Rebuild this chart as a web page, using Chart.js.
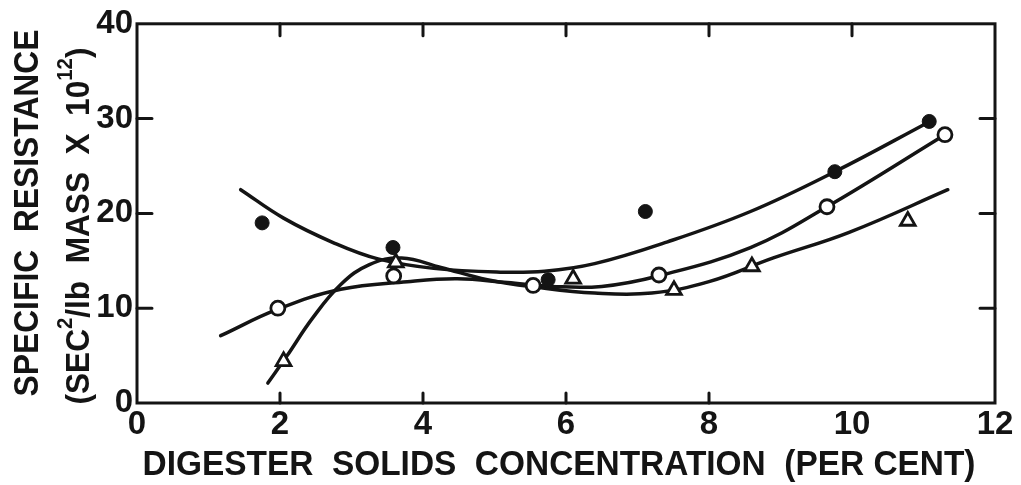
<!DOCTYPE html>
<html>
<head>
<meta charset="utf-8">
<title>Specific resistance vs digester solids</title>
<script src="https://cdn.jsdelivr.net/npm/chart.js@4.4.1/dist/chart.umd.min.js"></script>
<style>
  html, body { margin: 0; padding: 0; background: #fff; }
  canvas { display: block; }
</style>
</head>
<body>
<canvas id="c" width="1021" height="485"></canvas>
<script>
// Measured specific resistance (sec^2/lb mass x 10^12) vs digester solids (%)
const filledX = [1.75, 3.58, 5.75, 7.11, 9.76, 11.08];
const filledY = [19.0, 16.4, 13.0, 20.2, 24.4, 29.7];
const openX   = [1.97, 3.59, 5.54, 7.30, 9.65, 11.30];
const openY   = [10.0, 13.4, 12.4, 13.5, 20.7, 28.3];
const triX    = [2.05, 3.62, 6.10, 7.51, 8.60, 10.78];
const triY    = [4.4, 14.8, 13.1, 11.9, 14.4, 19.2];

// Hand-fitted trend curves, one per series
const filledCurveX = [1.45, 2.05, 2.75, 3.37, 4.15, 5.08, 5.70, 6.40, 7.42, 8.58, 9.76, 11.09];
const filledCurveY = [22.5, 19.5, 16.9, 15.2, 14.2, 13.8, 13.9, 14.7, 17.0, 20.2, 24.4, 29.7];
const openCurveX   = [1.17, 1.97, 2.85, 3.78, 4.48, 5.18, 5.80, 6.50, 7.29, 8.58, 9.65, 11.30];
const openCurveY   = [7.1, 9.9, 12.0, 12.8, 13.1, 12.7, 12.3, 12.3, 13.4, 16.4, 20.7, 28.3];
const triCurveX    = [1.83, 2.10, 2.45, 2.85, 3.25, 3.70, 4.25, 4.90, 5.60, 6.40, 7.20, 8.00, 8.90, 9.96, 11.34];
const triCurveY    = [2.1, 5.0, 8.9, 12.5, 14.6, 15.3, 14.3, 13.0, 12.2, 11.6, 11.6, 12.8, 15.3, 18.0, 22.5];

// Axis ticks and labels
const xTickLabels = ['0', '2', '4', '6', '8', '10', '12'];
const yTickLabels = ['0', '10', '20', '30', '40'];
const xTopTicks = [2, 4, 6, 8, 10];
const xBottomTicks = [2, 4, 6, 8];
const ySideTicks = [10, 20, 30];

const xTitle = [{ t: 'DIGESTER  SOLIDS  CONCENTRATION  (PER CENT)' }];
const yTitle1 = [{ t: 'SPECIFIC  RESISTANCE' }];
const yTitle2 = [
  { t: '(SEC' }, { t: '2', sup: true }, { t: '/lb  MASS  X  10' }, { t: '12', sup: true }, { t: ')' }
];

const FONT = "'Liberation Sans', Arial, sans-serif";
const INK = '#141414';

const pts = (xs, ys) => xs.map((x, i) => ({ x, y: ys[i] }));

function segFont(s, size) {
  return `bold ${s.sup ? Math.round(size * 0.66) : size}px ${FONT}`;
}

// Draws a run of text (with optional superscripts), squeezed to a given length.
function drawRich(ctx, segs, size, ax, ay, length, vertical) {
  ctx.save();
  ctx.translate(ax, ay);
  if (vertical) ctx.rotate(-Math.PI / 2);
  const widths = segs.map(s => { ctx.font = segFont(s, size); return ctx.measureText(s.t).width; });
  const total = widths.reduce((a, b) => a + b, 0);
  ctx.scale(length / total, 1);
  ctx.fillStyle = INK;
  ctx.textAlign = 'left';
  ctx.textBaseline = 'alphabetic';
  let x = -total / 2;
  segs.forEach((s, i) => {
    ctx.font = segFont(s, size);
    ctx.fillText(s.t, x, s.sup ? -size * 0.5 : 0);
    x += widths[i];
  });
  ctx.restore();
}

const frameAndTitles = {
  id: 'frameAndTitles',
  afterDatasetsDraw(chart) {
    const { ctx, chartArea: a, scales: { x, y } } = chart;
    ctx.save();
    ctx.strokeStyle = INK;
    ctx.lineWidth = 3;
    ctx.lineCap = 'round';
    ctx.strokeRect(a.left, a.top, a.right - a.left, a.bottom - a.top);
    ctx.beginPath();
    ySideTicks.forEach(v => {
      const py = y.getPixelForValue(v);
      ctx.moveTo(a.left, py); ctx.lineTo(a.left + 15, py);
      ctx.moveTo(a.right, py); ctx.lineTo(a.right - 15, py);
    });
    xTopTicks.forEach(v => {
      const px = x.getPixelForValue(v);
      ctx.moveTo(px, a.top); ctx.lineTo(px, a.top + 12);
    });
    xBottomTicks.forEach(v => {
      const px = x.getPixelForValue(v);
      ctx.moveTo(px, a.bottom); ctx.lineTo(px, a.bottom - 10);
    });
    ctx.stroke();
    ctx.restore();

    drawRich(ctx, xTitle, 35, 559, 475, 833, false);
    drawRich(ctx, yTitle1, 35, 38, 213, 367, true);
    drawRich(ctx, yTitle2, 34, 89, 226, 357, true);
  }
};

const markerBase = { showLine: false, borderColor: INK };
const curveBase = {
  type: 'line', showLine: true, pointRadius: 0, borderColor: INK, borderWidth: 3.5,
  tension: 0.4, fill: false, borderCapStyle: 'round'
};

new Chart(document.getElementById('c'), {
  type: 'scatter',
  data: {
    datasets: [
      { ...markerBase, label: 'solid', data: pts(filledX, filledY), pointStyle: 'circle',
        pointRadius: 7, backgroundColor: INK, borderWidth: 1 },
      { ...markerBase, label: 'open', data: pts(openX, openY), pointStyle: 'circle',
        pointRadius: 7, backgroundColor: '#fff', borderWidth: 2.8 },
      { ...markerBase, label: 'triangle', data: pts(triX, triY), pointStyle: 'triangle',
        pointRadius: 8.5, backgroundColor: '#fff', borderWidth: 2.8 },
      { ...curveBase, label: 'solid fit', data: pts(filledCurveX, filledCurveY) },
      { ...curveBase, label: 'open fit', data: pts(openCurveX, openCurveY) },
      { ...curveBase, label: 'triangle fit', data: pts(triCurveX, triCurveY) }
    ]
  },
  options: {
    responsive: false,
    animation: false,
    devicePixelRatio: 1,
    layout: { padding: { top: 22, right: 26, left: 0, bottom: 0 } },
    plugins: { legend: { display: false }, tooltip: { enabled: false } },
    scales: {
      x: {
        type: 'linear', min: 0, max: 12,
        afterFit(s) { s.height = 82; },
        grid: { display: false, drawTicks: false },
        border: { display: false },
        ticks: {
          stepSize: 2, autoSkip: false, maxRotation: 0, padding: 2, color: INK,
          font: { family: FONT, size: 33, weight: 'bold' },
          callback: (v, i) => xTickLabels[i]
        }
      },
      y: {
        type: 'linear', min: 0, max: 40,
        afterFit(s) { s.width = 137; },
        grid: { display: false, drawTicks: false },
        border: { display: false },
        ticks: {
          stepSize: 10, autoSkip: false, padding: 4, color: INK,
          font: { family: FONT, size: 33, weight: 'bold' },
          callback: (v, i) => yTickLabels[i]
        }
      }
    }
  },
  plugins: [frameAndTitles]
});
</script>
</body>
</html>
